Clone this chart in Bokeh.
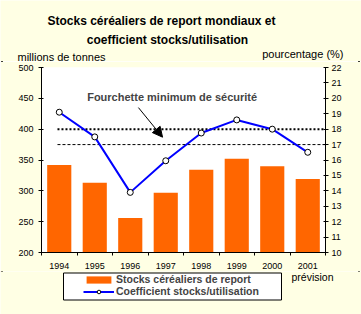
from bokeh.plotting import figure
from bokeh.layouts import column
from bokeh.models import (Range1d, LinearAxis, FixedTicker, Label, Legend, LegendItem,
                          Arrow, NormalHead, ColumnDataSource)
from bokeh.embed import file_html
from bokeh.resources import INLINE

# ---- data ----
years = ["1994", "1995", "1996", "1997", "1998", "1999", "2000", "2001"]
stocks = [342, 313, 256, 297, 334, 352, 340, 319]          # millions de tonnes
ratio = [19.1, 17.5, 13.9, 15.95, 17.75, 18.6, 18.0, 16.5]  # pourcentage
security_band = [18, 17]                                    # fourchette minimum (%)
left_ticks = [200, 250, 300, 350, 400, 450, 500]
right_ticks = list(range(10, 23))

FONT = "Liberation Sans"
BG = "#FFFFE4"
ORANGE = "#FF6600"
BLUE = "#0000FF"
W = 361

xs = list(range(len(years)))
src = ColumnDataSource(dict(x=xs, stocks=stocks, ratio=ratio))


def blank_fig(h):
    f = figure(width=W, height=h, output_backend="svg", toolbar_location=None,
               x_range=Range1d(0, W), y_range=Range1d(h, 0),
               x_axis_type=None, y_axis_type=None, min_border=0, frame_align=False)
    f.outline_line_color = None
    f.background_fill_color = BG
    f.border_fill_color = BG
    f.xgrid.visible = False
    f.ygrid.visible = False
    return f


def text(f, x, y, s, size, bold=False, align="left"):
    f.add_layout(Label(x=x, y=y, text=s, text_font=FONT, text_font_size=size,
                       text_font_style="bold" if bold else "normal",
                       text_align=align, text_baseline="middle", text_color="black"))


# ---------------- top: titles ----------------
top = blank_fig(61)
text(top, 161, 20.5, "Stocks céréaliers de report mondiaux et", "12px", True, "center")
text(top, 167, 39, "coefficient stocks/utilisation", "12px", True, "center")
text(top, 17, 56, "millions de tonnes", "11px")
text(top, 343, 53, "pourcentage (%)", "11px", align="right")

# ---------------- main chart ----------------
p = figure(width=W, height=210, output_backend="svg", toolbar_location=None,
           x_range=Range1d(-0.5, len(years) - 0.5), y_range=Range1d(200, 500),
           min_border_left=41, min_border_right=36, min_border_top=6, min_border_bottom=18,
           frame_align=False)
p.extra_y_ranges = {"pct": Range1d(10, 22)}
p.outline_line_color = None
p.background_fill_color = "white"
p.border_fill_color = BG
p.xgrid.visible = False
p.ygrid.visible = False

xa = p.xaxis[0]
xa.ticker = FixedTicker(ticks=xs, minor_ticks=[i - 0.5 for i in range(len(years) + 1)])
xa.major_label_overrides = {i: y for i, y in enumerate(years)}
xa.major_tick_out = 0
xa.major_tick_in = 0
xa.minor_tick_out = 3
xa.minor_tick_in = 0
xa.minor_tick_line_color = "black"
xa.major_label_standoff = 7

ya = p.yaxis[0]
ya.ticker = FixedTicker(ticks=left_ticks)
ya.minor_tick_line_color = None
ya.major_tick_in = 2
ya.major_tick_out = 3
ya.major_label_standoff = 5

ra = LinearAxis(y_range_name="pct", ticker=FixedTicker(ticks=right_ticks))
ra.minor_tick_line_color = None
ra.major_tick_in = 2
ra.major_tick_out = 3
ra.major_label_standoff = 3
p.add_layout(ra, "right")

for ax in (xa, ya, ra):
    ax.axis_line_color = "black"
    ax.major_tick_line_color = "black"
    ax.major_label_text_font = FONT
    ax.major_label_text_font_size = "9px"
    ax.major_label_text_color = "black"

p.vbar(x="x", top="stocks", bottom=200, width=0.68, source=src,
       fill_color=ORANGE, line_color=None)

p.segment(x0=-0.05, x1=len(years) - 0.5, y0=security_band[0], y1=security_band[0],
          y_range_name="pct", line_color="black", line_width=2, line_dash="2 2")
p.segment(x0=-0.05, x1=len(years) - 0.5, y0=security_band[1], y1=security_band[1],
          y_range_name="pct", line_color="black", line_width=1, line_dash="3 2")

p.line(x="x", y="ratio", source=src, y_range_name="pct", line_color=BLUE, line_width=2)
p.scatter(x="x", y="ratio", source=src, y_range_name="pct", marker="circle", size=6,
          fill_color="white", line_color="black", line_width=1)

p.add_layout(Label(x=3.18, y=452, text="Fourchette minimum de sécurité", text_font=FONT,
                   text_font_size="11px", text_font_style="bold", text_align="center",
                   text_baseline="middle"))
p.add_layout(Arrow(end=NormalHead(size=10, fill_color="black", line_color="black"),
                   x_start=2.23, y_start=435, x_end=2.91, y_end=387,
                   line_width=1, line_color="black"))

# ---------------- bottom: legend ----------------
bot = blank_fig(43)
bot.quad(left=63, right=281, top=1.5, bottom=28.5, fill_color="white",
         line_color="black", line_width=1)
lg_bar = bot.vbar(x=[-100], top=[-100], bottom=[-110], width=1, fill_color=ORANGE, line_color=None)
lg_line = bot.line(x=[-100, -90], y=[-100, -100], line_color=BLUE, line_width=2)
lg_mk = bot.scatter(x=[-100], y=[-100], marker="circle", size=6, fill_color="white",
                    line_color="black", line_width=1)
legend = Legend(items=[LegendItem(label="Stocks céréaliers de report", renderers=[lg_bar]),
                       LegendItem(label="Coefficient stocks/utilisation",
                                  renderers=[lg_line, lg_mk])],
                location=(83, 17), padding=0, spacing=0, margin=0,
                glyph_width=31, glyph_height=9, label_height=12, label_standoff=2,
                label_text_font=FONT, label_text_font_size="10.5px",
                label_text_font_style="bold",
                border_line_alpha=0, background_fill_alpha=0)
bot.add_layout(legend)
text(bot, 312, 5.7, "prévision", "10.5px", align="center")

layout = column(top, p, bot, spacing=0,
                styles={"outline": "2px solid black", "outline-offset": "-3px"})

open("out.html", "w").write(file_html(layout, INLINE))
